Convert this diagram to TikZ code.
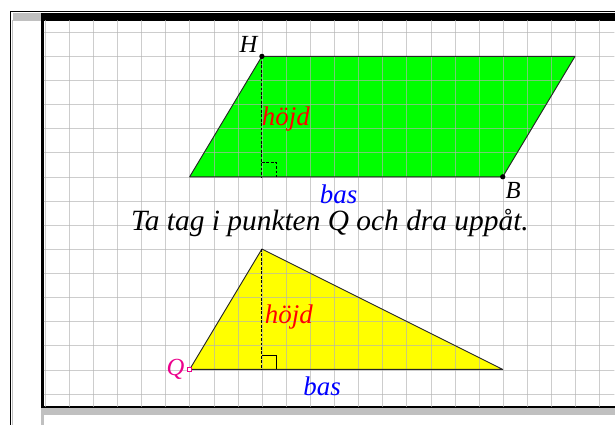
\documentclass[tikz,border=0pt]{standalone}
\usepackage{fontspec}
\setmainfont{Liberation Serif}
\usepackage{xcolor}
\usepackage{tikz}
\usetikzlibrary{calc}
\definecolor{ggbgreen}{HTML}{00FF00}
\definecolor{ggbyellow}{HTML}{FFFF00}
\definecolor{ggbgrid}{HTML}{B3B3B3}
\definecolor{ggbframe}{HTML}{C0C0C0}
\tikzset{
  gridline/.style={ggbgrid, line width=0.8pt, opacity=0.65},
  edge/.style={draw=black!85, line width=0.8pt, line join=round},
  alt/.style={black, line width=0.7pt, dash pattern=on 2.4pt off 1.4pt},
  dot/.style={circle, fill=black, inner sep=0pt, minimum size=4.5pt},
  freept/.style={rectangle, draw=magenta, fill=white, line width=0.6pt,
                 inner sep=0pt, minimum size=3.4pt},
  lbl/.style={inner sep=0pt, font=\fontsize{21}{24}\selectfont\itshape},
  tag/.style={inner sep=0pt, font=\fontsize{23}{27}\selectfont\itshape},
}

\begin{document}
\begin{tikzpicture}[x=0.03cm,y=-0.03cm]
  \useasboundingbox (0,0) rectangle (615,425);
  \fill[white] (0,0) rectangle (615,425);
  % window frame
  \draw[black, line width=0.85pt] (10.5,430) |- (620,11.5);
  \draw[ggbframe, line width=0.85pt] (12.8,20) -- (12.8,430);
  \fill[ggbframe] (13,13.3) rectangle (40.7,20.7);
  \fill[black] (40.7,13.3) rectangle (620,20.7);
  \fill[black] (40.7,13.3) rectangle (44,407.8);
  \fill[black] (40.7,406.2) rectangle (620,407.8);
  \fill[ggbframe] (40.7,407.8) rectangle (620,415);
  \fill[ggbframe] (40.7,407.8) rectangle (44,430);

  \begin{scope}[shift={(45.15,8.2)}, scale=24.12]
    \coordinate (A) at (6,7);
    \coordinate (B) at (19,7);
    \coordinate (C) at (22,2);
    \coordinate (H) at (9,2);
    \coordinate (F) at (9,7);
    \coordinate (Q) at (6,15);
    \coordinate (T) at (9,10);
    \coordinate (R) at (19,15);
    \coordinate (G) at (9,15);

    \fill[ggbgreen] (A) -- (B) -- (C) -- (H) -- cycle;
    \fill[ggbyellow] (Q) -- (R) -- (T) -- cycle;

    % grid
    \begin{scope}
      \clip (-0.05,0.52) rectangle (23.6,16.51);
      \foreach \i in {0,...,23}
        \draw[gridline] (\i,0) -- (\i,17);
      \foreach \j in {1,...,16}
        \draw[gridline] (-1,\j) -- (24,\j);
    \end{scope}

    \draw[edge] (A) -- (B) -- (C) -- (H) -- cycle;
    \draw[edge] (Q) -- (R) -- (T) -- cycle;

    \draw[alt] (H) -- (F);
    \draw[alt] ($(F)+(0,-0.59)$) -| ($(F)+(0.59,0)$);
    \draw[alt] (T) -- (G);
    \draw[black, line width=0.7pt] ($(G)+(0,-0.59)$) -| ($(G)+(0.59,0)$);

    \node[dot] (Hp) at (H) {};
    \node[dot] (Bp) at (B) {};
    \node[freept] (Qp) at (Q) {};

    \node[lbl, anchor=base east] (Hl) at (8.81,1.85) {H};
    \node[lbl, anchor=base west] (Bl) at (19.08,7.88) {B};
    \node[lbl, anchor=base east, magenta] (Ql) at (5.78,15.22) {Q};

    \node[tag, anchor=base west, red] (h1) at (8.98,4.85) {höjd};
    \node[tag, anchor=base west, blue] (b1) at (11.38,8.10) {bas};
    \node[tag, anchor=base west, red] (h2) at (9.1,13.07) {höjd};
    \node[tag, anchor=base west, blue] (b2) at (10.7,16.05) {bas};

    \node[inner sep=0pt, anchor=base, font=\fontsize{25.1}{29}\selectfont\itshape]
      (txt) at (11.81,9.23) {Ta tag i punkten Q och dra uppåt.};
  \end{scope}
\end{tikzpicture}
\end{document}
